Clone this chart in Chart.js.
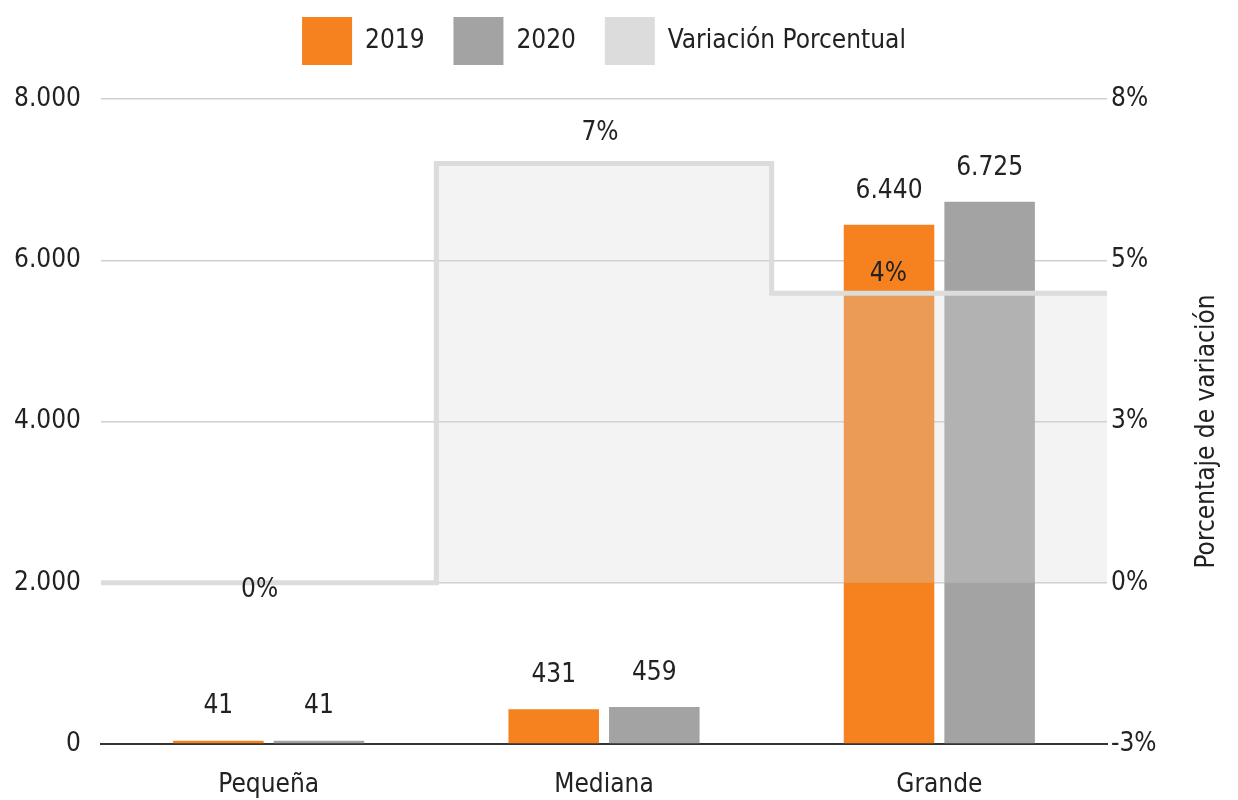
<!DOCTYPE html>
<html>
<head>
<meta charset="utf-8">
<script src="https://cdn.jsdelivr.net/npm/chart.js@4.4.0/dist/chart.umd.min.js"></script>
<style>
  html, body { margin: 0; padding: 0; background: #fff; }
  #wrap { width: 1238px; height: 800px; }
</style>
</head>
<body>
<div id="wrap"><canvas id="myChart"></canvas></div>
<script>
var categories = ['Pequeña', 'Mediana', 'Grande'];
var values2019 = [41, 431, 6440];
var values2020 = [41, 459, 6725];
var pctChange = [0, 6.5, 4.49];
var leftTicks = [0, 2000, 4000, 6000, 8000];
var rightTicks = [-2.5, 0, 2.5, 5, 7.5];
var seriesNames = ['2019', '2020', 'Variación Porcentual'];
var rightTitle = 'Porcentaje de variación';

// small nudges for the % labels, to sit like in the original
var pctLabelOffset = [[-9, 7], [-4, -30], [-51, -19]];

var FONT = '"DejaVu Sans Condensed", "Liberation Sans Narrow", sans-serif';
var FS = 26;
var TEXT = '#222';
var ORANGE = '#f5821f';
var GREY = '#a3a3a3';
var LIGHT = '#dcdcdc';

function fmt(n) {
    return String(n).replace(/\B(?=(\d{3})+(?!\d))/g, '.');
}

var stepPoints = pctChange.map(function (v, i) { return { x: i, y: v }; });
stepPoints.push({ x: pctChange.length, y: pctChange[pctChange.length - 1] });

// legend order: 2019, 2020, then the line
var legendRank = { '2019': 0, '2020': 1 };

var valueLabels = {
    id: 'valueLabels',
    afterDatasetsDraw: function (chart) {
        var ctx = chart.ctx;
        ctx.save();
        ctx.font = FS + 'px ' + FONT;
        ctx.fillStyle = TEXT;
        ctx.textAlign = 'center';
        ctx.textBaseline = 'middle';
        [1, 2].forEach(function (di) {
            chart.getDatasetMeta(di).data.forEach(function (bar, i) {
                ctx.fillText(fmt(chart.data.datasets[di].data[i]), bar.x, bar.y - 34);
            });
        });
        var xs = chart.scales.x2, ys = chart.scales.y2;
        pctChange.forEach(function (v, i) {
            var off = pctLabelOffset[i];
            ctx.fillText(Math.round(v) + '%', xs.getPixelForValue(i + 0.5) + off[0], ys.getPixelForValue(v) + off[1]);
        });
        ctx.translate(chart.width - 31, (chart.chartArea.top + chart.chartArea.bottom) / 2 + 10);
        ctx.rotate(-Math.PI / 2);
        ctx.fillText(rightTitle, 0, 0);
        ctx.restore();
    }
};

var ctx = document.getElementById('myChart').getContext('2d');
var myChart = new Chart(ctx, {
    type: 'bar',
    data: {
        labels: categories,
        datasets: [{
            // line goes first so the bars sit in the middle slots of each category
            type: 'line',
            label: seriesNames[2],
            data: stepPoints,
            xAxisID: 'x2',
            yAxisID: 'y2',
            order: 0,
            stepped: 'before',
            borderColor: LIGHT,
            borderWidth: 5,
            pointRadius: 0,
            fill: { value: 0 },
            backgroundColor: 'rgba(215,215,215,0.3)'
        },
        {
            label: seriesNames[0],
            data: values2019,
            backgroundColor: ORANGE,
            xAxisID: 'x',
            yAxisID: 'y',
            order: 1,
            categoryPercentage: 1.2,
            barPercentage: 0.9
        },
        {
            label: seriesNames[1],
            data: values2020,
            backgroundColor: GREY,
            xAxisID: 'x',
            yAxisID: 'y',
            order: 1,
            categoryPercentage: 1.2,
            barPercentage: 0.9
        }]
    },
    options: {
        responsive: true,
        maintainAspectRatio: false,
        animation: false,
        layout: { padding: { top: 3 } },
        plugins: {
            tooltip: { enabled: false },
            legend: {
                position: 'top',
                fullSize: false,
                labels: {
                    color: TEXT,
                    font: { family: FONT, size: FS },
                    boxWidth: 50,
                    boxHeight: 48,
                    padding: 14,
                    sort: function (a, b) {
                        var ra = a.text.trim() in legendRank ? legendRank[a.text.trim()] : 2;
                        var rb = b.text.trim() in legendRank ? legendRank[b.text.trim()] : 2;
                        return ra - rb;
                    },
                    generateLabels: function (chart) {
                        var items = Chart.defaults.plugins.legend.labels.generateLabels(chart);
                        var colors = [LIGHT, ORANGE, GREY];
                        items.forEach(function (it) {
                            it.fillStyle = colors[it.datasetIndex];
                            it.strokeStyle = 'rgba(0,0,0,0)';
                            it.lineWidth = 0;
                            if (it.datasetIndex > 0) it.text = it.text + '  ';
                        });
                        return items;
                    }
                }
            }
        },
        scales: {
            x: {
                type: 'category',
                offset: true,
                grid: { display: false },
                border: { display: true, color: '#333', width: 2 },
                ticks: { color: TEXT, font: { family: FONT, size: FS }, padding: 18 },
                afterFit: function (scale) { scale.height = 56; }
            },
            x2: {
                type: 'linear',
                position: 'top',
                min: 0,
                max: categories.length,
                offset: false,
                grid: { display: false, offset: false },
                border: { display: false },
                ticks: { display: false },
                afterFit: function (scale) { scale.height = 24; }
            },
            y: {
                position: 'left',
                min: leftTicks[0],
                max: leftTicks[leftTicks.length - 1],
                grid: {
                    color: function (c) { return c.tick.value === 0 ? 'rgba(0,0,0,0)' : '#cfcfcf'; },
                    lineWidth: 1.5,
                    drawTicks: false
                },
                border: { display: false },
                ticks: {
                    stepSize: leftTicks[1] - leftTicks[0],
                    color: TEXT,
                    font: { family: FONT, size: FS },
                    padding: 20,
                    callback: function (v) { return fmt(v); }
                },
                afterFit: function (scale) { scale.width = 101; }
            },
            y2: {
                position: 'right',
                min: rightTicks[0],
                max: rightTicks[rightTicks.length - 1],
                grid: { display: false, drawTicks: false },
                border: { display: false },
                ticks: {
                    stepSize: rightTicks[1] - rightTicks[0],
                    color: TEXT,
                    font: { family: FONT, size: FS },
                    padding: 4,
                    crossAlign: 'near',
                    callback: function (v) { return (Math.sign(v) * Math.round(Math.abs(v))) + '%'; }
                },
                afterFit: function (scale) { scale.width = 131; }
            }
        }
    },
    plugins: [valueLabels]
});
</script>
</body>
</html>
